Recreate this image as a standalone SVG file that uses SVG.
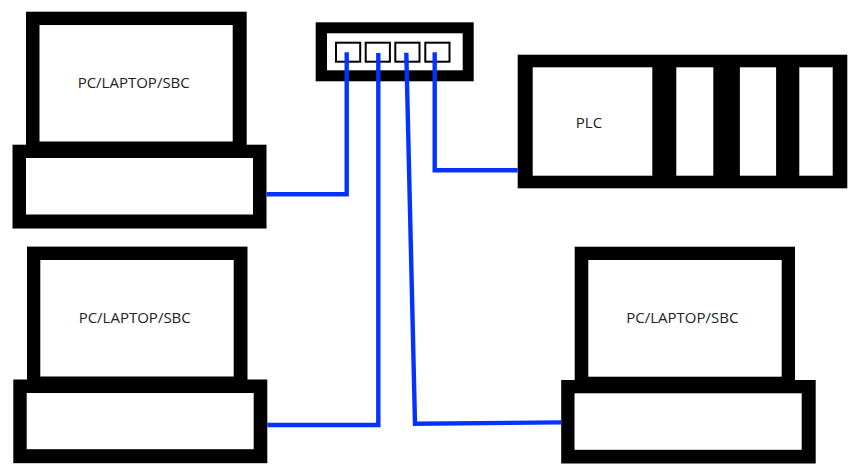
<svg xmlns="http://www.w3.org/2000/svg" width="868" height="474" viewBox="0 0 868 474">
<style>
.k{fill:#000}
.w{fill:#fff}
.p{fill:#fff;stroke:#000;stroke-width:2}
.t{font-family:"Open Sans","Noto Sans",sans-serif;font-size:15px;fill:#222;text-anchor:middle}
.c{fill:none;stroke:#0433ff;stroke-width:4.4;stroke-linejoin:miter}
</style>
<rect width="868" height="474" fill="#fff"/>
<g id="laptop-1">
<rect class="k" x="26" y="11.7" width="220.7" height="140"/>
<rect class="w" x="39.5" y="25" width="193.2" height="116.5"/>
<rect class="k" x="12.5" y="144.7" width="254" height="83.8"/>
<rect class="w" x="26" y="158" width="227" height="56.5"/>
<text class="t" x="133.7" y="88.3">PC/LAPTOP/SBC</text>
</g>
<g id="laptop-2">
<rect class="k" x="27" y="246.6" width="220.5" height="140"/>
<rect class="w" x="40.3" y="260" width="193.4" height="116.5"/>
<rect class="k" x="13.3" y="379.5" width="254" height="83.7"/>
<rect class="w" x="26.7" y="393" width="227" height="56.2"/>
<text class="t" x="134.7" y="323.3">PC/LAPTOP/SBC</text>
</g>
<g id="laptop-3">
<rect class="k" x="574.7" y="246.7" width="220.3" height="140"/>
<rect class="w" x="588.3" y="260" width="193.4" height="116.7"/>
<rect class="k" x="561.2" y="380" width="254.5" height="83.5"/>
<rect class="w" x="574.5" y="393.3" width="227.2" height="56.5"/>
<text class="t" x="682.3" y="323.3">PC/LAPTOP/SBC</text>
</g>
<g id="switch">
<rect class="k" x="315.7" y="22.3" width="158" height="59"/>
<rect class="w" x="327" y="33.3" width="135.7" height="37"/>
<rect class="p" x="336" y="42.7" width="24.2" height="19"/>
<rect class="p" x="365.7" y="42.7" width="24.2" height="19"/>
<rect class="p" x="395.3" y="42.7" width="24.2" height="19"/>
<rect class="p" x="425.3" y="42.7" width="24.2" height="19"/>
</g>
<g id="plc">
<rect class="k" x="517.7" y="54.7" width="329.6" height="133.6"/>
<rect class="w" x="532.7" y="67.3" width="119.6" height="108.4"/>
<rect class="w" x="676.3" y="67.3" width="37" height="108.4"/>
<rect class="w" x="739.9" y="67.3" width="36.2" height="108.4"/>
<rect class="w" x="799.3" y="67.3" width="33.4" height="108.4"/>
<text class="t" x="589" y="128.3">PLC</text>
</g>
<g id="connectors">
<path class="c" d="M266.5 194.3H346.7V52.3"/>
<path class="c" d="M267.3 425H378.3V53"/>
<path class="c" d="M406.3 52.7L415 423.8L561.2 422.4"/>
<path class="c" d="M434.7 52.3V170.3H517.7"/>
</g>
</svg>
